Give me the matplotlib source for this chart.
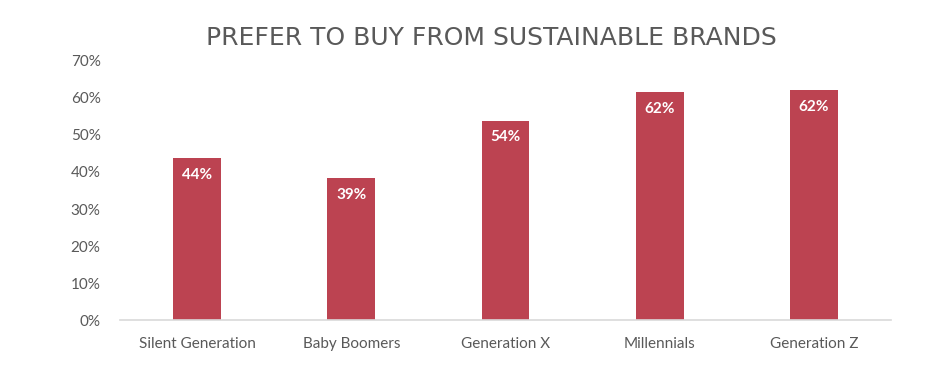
import matplotlib.pyplot as plt
from matplotlib.ticker import PercentFormatter

# data
generations = ["Silent Generation", "Baby Boomers", "Generation X", "Millennials", "Generation Z"]
share = [43.8, 38.4, 53.9, 61.5, 62.1]
share_labels = ["44%", "39%", "54%", "62%", "62%"]
yticks = [0, 10, 20, 30, 40, 50, 60, 70]

plt.rcParams['font.family'] = ['Lato', 'DejaVu Sans']

fig = plt.figure(figsize=(9.33, 3.85), dpi=100)
ax = fig.add_axes([0.1286, 0.1688, 0.8264, 0.6728])

bar_color = "#BC4351"
x = range(len(generations))
bars = ax.bar(x, share, width=0.31, color=bar_color, zorder=2)

# value labels inside the bars
for b, lab in zip(bars, share_labels):
    ax.text(b.get_x() + b.get_width() / 2, b.get_height() - 2.6, lab,
            ha='center', va='top', color='white', fontsize=11, fontweight='bold')

ax.set_xlim(-0.5, len(generations) - 0.5)
ax.set_ylim(0, 70)
ax.set_yticks(yticks)
ax.yaxis.set_major_formatter(PercentFormatter(decimals=0))
ax.set_xticks(list(x))
ax.set_xticklabels(generations)

for s in ['top', 'right', 'left']:
    ax.spines[s].set_visible(False)
ax.spines['bottom'].set_color('#D9D9D9')
ax.spines['bottom'].set_linewidth(1.2)
ax.tick_params(axis='both', length=0, labelsize=11, labelcolor='#595959')
ax.tick_params(axis='x', pad=12)
ax.tick_params(axis='y', pad=14)

# title: wider, letter-spaced look
fig.text(0.527, 0.901, "PREFER TO BUY FROM SUSTAINABLE BRANDS", ha='center', va='center',
         fontsize=18, color='#595959', family='DejaVu Sans')

fig.savefig("out.png", dpi=100)
